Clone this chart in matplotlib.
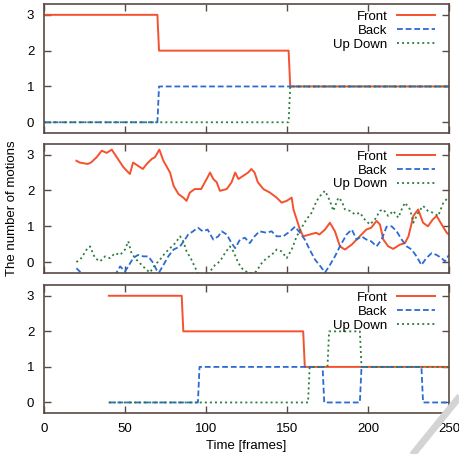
import numpy as np
import matplotlib
matplotlib.use('Agg')
import matplotlib.pyplot as plt
from matplotlib.lines import Line2D

plt.rcParams['font.family'] = ['Liberation Sans', 'DejaVu Sans']
plt.rcParams['font.size'] = 9.5

# %% dados - painel 1 (pontos de mudança)
p1_front_t = [0, 70, 71, 151, 152, 250]
p1_front_v = [3, 3, 2, 2, 1, 1]
p1_back_t = [0, 70, 71, 250]
p1_back_v = [0, 0, 1, 1]
p1_ud_t = [0, 151, 152, 250]
p1_ud_v = [0, 0, 1, 1]

# %% dados - painel 2 (curvas estimadas)
p2_front_t = [20, 22, 27, 29, 32.5, 35.6, 38.7, 41.8, 44.9, 49, 53, 55, 58, 61, 63.4, 66.5,
              68.5, 71.2, 73.7, 77.8, 80, 83, 86, 88, 90, 93, 97, 100.4, 102.5, 104.5, 106.6,
              108.6, 112.8, 115.8, 118, 120, 123, 126, 128, 130, 132, 135.4, 139.5, 143.6,
              146.7, 149.8, 152.9, 154, 156, 158, 160, 164, 168, 170, 173.5, 176.5, 179.6,
              182.7, 185.8, 190, 193, 196, 199, 202, 205.3, 207.4, 209.5, 212.5, 215.6, 219.8,
              222.8, 225, 228, 231, 234, 237, 240, 242.4, 245.5, 248.6, 250]
p2_front_v = [2.83, 2.78, 2.74, 2.78, 2.93, 3.11, 3.05, 3.14, 2.93, 2.65, 2.46, 2.78, 2.69, 2.6,
              2.74, 2.88, 2.93, 3.14, 2.83, 2.5, 2.13, 1.9, 1.8, 1.71, 1.94, 2.04, 2.04, 2.32,
              2.5, 2.32, 2.23, 1.99, 2.04, 2.23, 2.5, 2.32, 2.41, 2.5, 2.6, 2.5, 2.23, 2.04,
              1.94, 1.8, 1.66, 1.71, 1.8, 1.47, 1.19, 0.91, 0.72, 0.77, 0.82, 0.77, 0.91, 1.1,
              0.86, 0.44, 0.35, 0.49, 0.63, 0.77, 0.91, 0.96, 1.15, 1.05, 0.63, 0.44, 0.37,
              0.49, 0.53, 0.72, 1.29, 1.47, 1.1, 1.0, 1.19, 1.29, 1.05, 0.82, 0.77]

p2_back_t = [20, 22, 25, 35, 44, 47, 50, 52, 55, 58, 61.3, 64.4, 67.5, 69.5, 71, 73.7, 76.7,
             80, 84, 87, 89, 92, 95, 98, 101, 104.5, 107.6, 109.7, 112.8, 115.8, 118, 121,
             124, 127, 130, 133, 137.4, 140.5, 143.6, 147.7, 151.9, 155, 158, 161, 164,
             167.3, 170, 173.5, 176.5, 179.6, 182.7, 186.8, 190, 193, 196, 199, 202, 205.3,
             208.4, 211.5, 214.6, 217.7, 220.8, 223.9, 227, 230, 233, 236, 239.3, 242.4,
             245.5, 247.5, 250]
p2_back_v = [-0.17, -0.26, -0.45, -0.5, -0.35, -0.12, -0.26, -0.12, 0.11, 0.2, 0.16, 0.16,
             -0.03, -0.22, -0.29, -0.08, 0.16, 0.35, 0.44, 0.63, 0.77, 0.86, 0.96, 0.86, 0.91,
             0.63, 0.72, 0.86, 0.77, 0.53, 0.39, 0.63, 0.68, 0.53, 0.72, 0.86, 0.82, 0.86,
             0.72, 0.72, 0.86, 0.99, 0.82, 0.63, 0.35, 0.07, -0.08, -0.29, -0.08, 0.16, 0.44,
             0.77, 0.91, 0.63, 0.72, 0.63, 0.58, 0.44, 0.63, 0.99, 1.0, 0.86, 0.63, 0.44,
             0.35, 0.16, -0.08, 0.11, 0.25, 0.2, 0.11, 0.02, 0.2]

p2_ud_t = [20, 23, 26.3, 28.4, 31.5, 34.6, 37.7, 40.7, 43.8, 47, 50, 52, 54, 57, 60.3, 63.4,
           65.4, 68.5, 71.6, 74.7, 77.8, 81, 84, 86, 88, 91, 94, 96, 99.4, 102.5, 105.6,
           108.6, 111.7, 114.8, 116.9, 120, 123, 126, 129, 131, 134.4, 137.4, 140.5, 143.6,
           146.7, 149.8, 152.9, 156, 159, 162, 165.2, 168.3, 171.4, 173.5, 176.5, 178.6,
           181.7, 183.7, 185.8, 189, 192, 195, 198, 201.2, 204.3, 207.4, 209.5, 212.5, 215.6,
           218.7, 220.8, 222.8, 226, 228, 231, 234, 237, 240, 243.4, 246.5, 249.5]
p2_ud_v = [0.0, 0.11, 0.35, 0.44, 0.11, 0.02, 0.16, 0.11, 0.25, 0.2, 0.35, 0.58, 0.25, 0.07,
           -0.08, -0.22, -0.29, -0.08, 0.07, 0.25, 0.39, 0.53, 0.72, 0.58, 0.3, 0.07, -0.22,
           -0.4, -0.45, -0.26, -0.08, 0.02, 0.25, 0.44, 0.3, -0.03, -0.22, -0.29, -0.31,
           -0.26, -0.03, 0.11, 0.2, 0.35, 0.3, 0.11, 0.35, 0.72, 0.96, 1.19, 1.38, 1.71, 1.9,
           1.99, 1.71, 1.43, 1.8, 1.71, 1.47, 1.43, 1.33, 1.38, 1.19, 1.05, 1.19, 1.43, 1.47,
           1.29, 1.43, 1.24, 1.47, 1.66, 1.47, 1.1, 1.38, 1.57, 1.43, 1.38, 1.29, 1.66, 1.8]

# %% dados - painel 3 (pontos de mudança)
p3_front_t = [40, 85, 86, 160, 161, 250]
p3_front_v = [3, 3, 2, 2, 1, 1]
p3_back_t = [40, 95, 96, 172, 173, 195, 196, 233, 234, 250]
p3_back_v = [0, 0, 1, 1, 0, 0, 1, 1, 0, 0]
p3_ud_t = [40, 163, 164, 175, 176, 195, 196, 250]
p3_ud_v = [0, 0, 1, 1, 2, 2, 1, 1]

series = [
    (p1_front_t, p1_front_v, p1_back_t, p1_back_v, p1_ud_t, p1_ud_v),
    (p2_front_t, p2_front_v, p2_back_t, p2_back_v, p2_ud_t, p2_ud_v),
    (p3_front_t, p3_front_v, p3_back_t, p3_back_v, p3_ud_t, p3_ud_v),
]

cor_front = '#f4512f'
cor_back = '#2b6bd3'
cor_ud = '#2e7d40'
cor_eixo = '#5a4a46'

# %% figura
fig = plt.figure(figsize=(4.6, 4.54), dpi=100)
posicoes = [(0.0957, 0.707, 0.8803, 0.284),
            (0.0957, 0.399, 0.8803, 0.284),
            (0.0957, 0.090, 0.8803, 0.282)]

eixos = []
for i, (pos, s) in enumerate(zip(posicoes, series)):
    ax = fig.add_axes(pos)
    ft, fv, bt, bv, ut, uv = s
    ax.plot(ft, fv, color=cor_front, lw=1.4, label='Front')
    ax.plot(bt, bv, color=cor_back, lw=1.3, dashes=(3.2, 1.6), label='Back')
    ax.plot(ut, uv, color=cor_ud, lw=1.3, dashes=(1.1, 1.7), label='Up Down')
    ax.set_xlim(0, 250)
    ax.set_ylim(-0.3, 3.3)
    ax.set_yticks([0, 1, 2, 3])
    ax.set_xticks([0, 50, 100, 150, 200, 250])
    ax.tick_params(direction='in', length=5, width=1, color=cor_eixo,
                   top=True, right=True, labelsize=9.5, pad=7)
    if i < 2:
        ax.tick_params(labelbottom=False)
    for sp in ax.spines.values():
        sp.set_color(cor_eixo)
        sp.set_linewidth(1.2)
    ax.legend(loc='upper right', frameon=False, markerfirst=False,
              handlelength=2.9, handletextpad=0.7, labelspacing=0.12,
              borderaxespad=0.1, fontsize=9.5, bbox_to_anchor=(0.982, 1.0))
    eixos.append(ax)

eixos[2].set_xlabel('Time [frames]', fontsize=9.5, labelpad=4)
fig.text(0.027, 0.541, 'The number of motions', rotation=90, ha='center', va='center',
         fontsize=9.5)

# marca cinza do canto (artefato da imagem original)
fig.add_artist(Line2D([1.01, 0.89], [0.14, -0.01], transform=fig.transFigure,
                      color='#d4d4d4', lw=5, solid_capstyle='butt'))

fig.savefig('out.png', dpi=100)
